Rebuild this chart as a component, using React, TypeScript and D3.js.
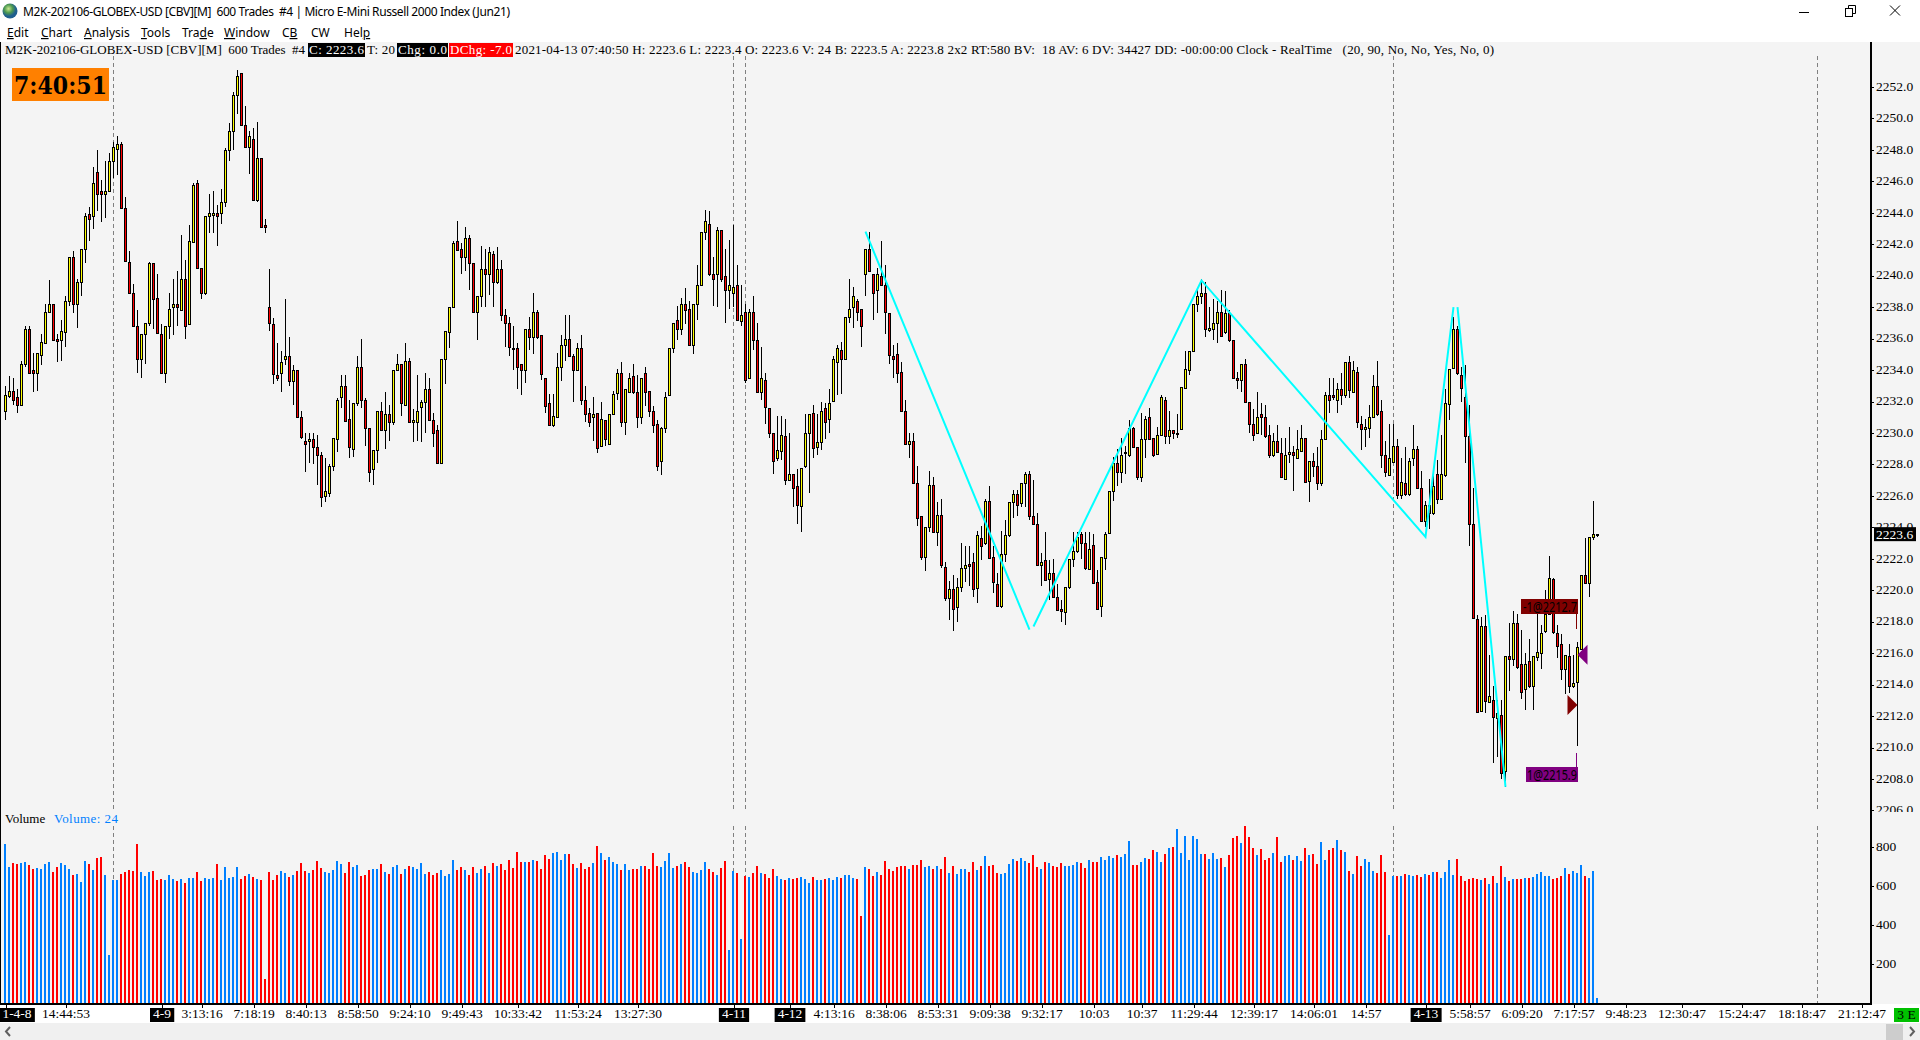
import { useEffect, useRef } from 'react';
import * as d3 from 'd3';

const WIDTH = 1920;
const HEIGHT = 1040;

const FONT_SERIF = '"Liberation Serif", serif';
const FONT_UI = '"Noto Sans", sans-serif';

// Bars, ten per row. Prices in index points.
const bodyHigh = [
  2232.4,2232.7,2232.7,2232.3,2234.4,2236.6,2236.6,2234.0,2235.1,2235.8,
  2237.7,2238.2,2238.2,2236.0,2236.5,2238.4,2241.2,2241.2,2239.6,2241.7,
  2243.8,2243.9,2245.9,2246.6,2245.4,2245.4,2247.3,2248.2,2248.4,2248.4,
  2244.3,2240.9,2238.9,2236.8,2236.3,2237.0,2240.8,2240.8,2238.6,2236.3,
  2236.8,2237.9,2238.2,2238.2,2239.8,2239.8,2242.2,2245.8,2245.9,2240.5,
  2243.8,2244.0,2244.0,2244.0,2244.7,2248.0,2249.2,2251.5,2252.7,2252.9,
  2249.6,2248.9,2248.7,2247.5,2247.5,2243.2,2238.0,2236.9,2233.7,2234.5,
  2234.9,2234.9,2234.0,2234.0,2231.0,2229.5,2229.6,2229.6,2229.1,2228.6,
  2226.3,2227.9,2229.7,2232.1,2233.0,2233.0,2230.9,2231.9,2234.2,2234.2,
  2232.1,2230.3,2228.9,2231.4,2231.4,2231.2,2231.2,2234.0,2234.4,2234.4,
  2234.6,2234.6,2230.8,2231.4,2232.0,2232.8,2232.8,2230.8,2230.2,2234.7,
  2236.5,2238.0,2242.1,2242.2,2241.7,2242.4,2242.4,2240.8,2238.7,2240.4,
  2240.4,2241.5,2241.4,2240.4,2240.4,2237.5,2237.0,2235.4,2235.4,2234.4,
  2236.6,2236.6,2237.7,2237.7,2236.2,2233.5,2231.9,2231.1,2234.2,2235.6,
  2236.0,2236.0,2234.9,2235.4,2235.4,2232.1,2231.3,2231.2,2231.3,2230.9,
  2230.8,2231.2,2232.5,2233.8,2233.8,2232.8,2233.5,2233.6,2232.6,2233.5,
  2233.8,2232.7,2231.4,2230.6,2230.3,2232.3,2235.4,2237.0,2237.2,2238.2,
  2238.2,2237.9,2238.2,2239.4,2242.8,2243.5,2243.3,2240.1,2242.9,2242.9,
  2240.0,2239.4,2239.3,2239.4,2237.5,2237.7,2237.7,2237.7,2235.9,2233.5,
  2233.4,2231.6,2230.0,2228.9,2229.9,2229.8,2227.4,2227.4,2226.6,2227.8,
  2230.0,2231.2,2231.3,2229.4,2231.4,2231.6,2231.9,2234.7,2235.4,2235.3,
  2237.4,2237.9,2238.7,2238.4,2237.9,2241.7,2241.7,2240.1,2240.1,2240.0,
  2239.4,2237.6,2234.9,2235.0,2233.9,2231.4,2229.5,2229.5,2226.8,2224.7,
  2224.0,2226.7,2226.7,2224.8,2224.8,2221.5,2220.1,2220.1,2220.2,2221.4,
  2221.6,2221.7,2221.8,2223.5,2223.3,2225.7,2225.7,2222.1,2220.4,2222.3,
  2223.5,2225.6,2226.1,2226.1,2226.8,2227.4,2227.4,2224.7,2224.2,2221.8,
  2221.9,2221.1,2221.1,2219.6,2218.8,2220.2,2222.0,2222.5,2223.4,2223.6,
  2223.0,2222.6,2222.9,2220.5,2222.1,2223.6,2226.3,2228.1,2228.1,2228.6,
  2228.8,2230.3,2230.3,2229.1,2229.6,2230.9,2231.0,2229.7,2229.9,2232.3,
  2232.1,2230.2,2230.2,2230.0,2232.9,2234.1,2235.2,2238.2,2238.7,2238.9,
  2238.9,2236.7,2237.0,2237.7,2237.7,2237.6,2237.6,2235.9,2233.5,2234.4,
  2234.4,2232.0,2230.6,2231.0,2231.2,2231.0,2229.9,2229.5,2229.5,2228.7,
  2228.6,2228.8,2228.8,2229.0,2229.7,2229.7,2228.2,2228.2,2227.9,2229.6,
  2232.4,2232.4,2232.4,2232.8,2232.8,2234.5,2234.5,2234.0,2233.9,2230.6,
  2230.4,2231.0,2233.0,2233.0,2231.4,2228.6,2228.4,2229.2,2229.2,2226.9,
  2226.8,2228.2,2229.0,2229.0,2226.5,2225.4,2225.4,2226.6,2227.4,2227.4,
  2231.9,2234.1,2236.6,2236.6,2233.7,2232.3,2229.8,2224.2,2218.2,2217.7,
  2217.7,2213.3,2213.0,2212.2,2212.1,2215.8,2215.8,2217.9,2217.9,2215.3,
  2215.3,2215.5,2215.8,2216.1,2217.3,2218.5,2220.8,2220.7,2217.3,2216.6,
  2215.9,2215.8,2214.1,2216.4,2221.0,2221.0,2223.4,2223.6,2223.6,
];

const bodyLow = [
  2231.4,2232.4,2232.1,2231.8,2231.8,2234.4,2233.8,2233.8,2233.8,2235.0,
  2235.7,2237.7,2235.9,2235.9,2235.9,2236.4,2238.4,2238.2,2238.2,2239.6,
  2241.7,2243.6,2243.8,2245.2,2245.2,2245.2,2245.4,2247.3,2248.1,2244.3,
  2240.9,2238.9,2236.8,2234.7,2234.7,2236.3,2237.0,2238.5,2236.4,2233.8,
  2233.8,2236.8,2238.0,2238.0,2237.8,2236.8,2236.9,2242.2,2240.5,2238.9,
  2238.9,2243.8,2243.9,2243.8,2244.0,2244.7,2248.0,2249.2,2251.5,2249.6,
  2248.2,2248.2,2244.8,2244.8,2243.1,2243.1,2237.0,2233.7,2233.5,2233.8,
  2234.7,2233.3,2233.3,2231.0,2229.7,2229.3,2229.5,2229.1,2228.6,2225.9,
  2226.0,2226.2,2227.9,2229.6,2232.3,2230.8,2229.1,2229.0,2231.9,2232.1,
  2230.3,2227.5,2227.7,2228.9,2230.2,2230.2,2230.7,2230.7,2234.0,2231.9,
  2231.8,2230.7,2230.7,2230.7,2231.7,2232.0,2230.8,2230.0,2228.1,2228.1,
  2234.7,2236.4,2238.0,2241.6,2241.2,2241.2,2240.8,2237.7,2237.7,2238.7,
  2240.1,2240.1,2239.6,2239.6,2237.5,2237.0,2235.5,2235.4,2234.2,2234.0,
  2234.0,2236.1,2236.1,2236.1,2233.7,2231.7,2230.5,2230.5,2231.0,2234.2,
  2235.6,2234.9,2234.0,2234.0,2232.1,2231.2,2230.7,2231.0,2229.1,2229.2,
  2229.6,2229.3,2231.2,2232.5,2230.7,2230.7,2232.6,2232.6,2231.0,2231.0,
  2232.6,2231.4,2230.5,2227.9,2228.2,2230.3,2232.4,2235.4,2236.6,2236.6,
  2237.8,2235.6,2235.6,2238.2,2239.4,2242.8,2240.1,2239.8,2240.1,2239.8,
  2239.1,2239.1,2238.9,2237.2,2237.1,2233.4,2233.5,2235.9,2232.6,2232.6,
  2231.7,2230.0,2228.2,2228.4,2228.9,2227.0,2227.0,2226.5,2225.4,2225.4,
  2227.9,2230.0,2229.1,2229.1,2229.4,2230.7,2230.9,2232.0,2234.5,2234.7,
  2234.7,2237.4,2238.0,2237.7,2236.8,2240.1,2240.3,2238.9,2239.1,2239.4,
  2237.7,2234.9,2234.7,2233.8,2231.4,2229.3,2229.3,2226.8,2224.6,2222.1,
  2222.1,2224.0,2223.7,2223.7,2221.6,2219.5,2219.5,2218.8,2218.9,2220.2,
  2221.4,2221.6,2220.1,2220.1,2222.8,2223.0,2222.1,2220.5,2219.0,2219.0,
  2222.3,2223.5,2225.6,2225.4,2225.5,2226.8,2224.7,2224.2,2221.6,2221.6,
  2220.6,2220.7,2219.6,2218.8,2218.7,2218.6,2220.2,2222.0,2222.5,2223.0,
  2221.4,2221.3,2220.5,2218.8,2219.0,2222.1,2223.6,2226.3,2227.5,2227.5,
  2228.8,2228.6,2229.1,2227.2,2227.2,2229.6,2229.6,2228.6,2228.7,2229.9,
  2229.8,2229.8,2230.0,2230.0,2230.2,2232.9,2234.0,2235.2,2238.2,2238.7,
  2236.6,2236.6,2236.6,2237.0,2236.2,2236.4,2235.9,2233.5,2233.4,2233.4,
  2232.0,2230.6,2229.9,2230.0,2231.0,2229.8,2228.6,2228.6,2228.8,2227.2,
  2227.1,2228.7,2228.6,2228.4,2228.9,2226.9,2226.9,2227.9,2226.8,2226.8,
  2229.6,2232.1,2232.3,2232.1,2232.4,2232.4,2232.7,2232.6,2230.7,2230.3,
  2230.3,2230.3,2231.0,2231.2,2228.6,2227.5,2227.3,2228.2,2226.1,2226.1,
  2226.1,2226.1,2228.4,2226.5,2224.4,2224.4,2224.9,2224.9,2225.8,2225.8,
  2227.3,2231.9,2234.1,2233.8,2232.9,2229.8,2224.2,2218.2,2212.3,2212.3,
  2212.9,2212.9,2211.9,2211.9,2208.4,2208.5,2215.6,2215.6,2215.1,2213.5,
  2213.7,2213.9,2213.9,2215.8,2216.0,2217.4,2218.5,2217.3,2216.5,2215.0,
  2215.0,2213.9,2213.9,2214.2,2216.3,2220.5,2220.5,2223.4,2223.6,
];

const wickHigh = [
  2233.0,2233.6,2233.5,2232.8,2234.6,2236.8,2236.8,2235.1,2235.1,2236.3,
  2238.2,2239.7,2238.2,2236.3,2237.2,2238.7,2241.2,2241.6,2239.8,2241.7,
  2244.0,2244.4,2246.9,2248.0,2246.1,2247.3,2247.8,2248.5,2248.9,2248.5,
  2245.0,2241.6,2239.5,2237.8,2236.3,2237.0,2240.9,2240.8,2240.1,2236.9,
  2236.8,2238.9,2239.8,2240.3,2242.6,2241.0,2243.2,2245.9,2246.1,2240.5,
  2243.8,2245.2,2245.4,2244.5,2245.5,2248.1,2249.7,2251.7,2253.1,2252.9,
  2250.8,2249.2,2249.4,2249.8,2247.5,2243.6,2240.4,2237.3,2235.7,2235.2,
  2238.5,2236.1,2234.3,2234.0,2231.4,2230.0,2230.0,2230.0,2229.9,2228.8,
  2228.4,2228.0,2229.7,2232.2,2233.7,2233.7,2232.1,2231.9,2234.9,2236.0,
  2232.2,2230.3,2228.9,2231.4,2232.0,2232.6,2231.8,2234.0,2235.0,2234.4,
  2235.7,2234.8,2231.5,2233.7,2232.1,2233.8,2233.5,2231.3,2230.5,2234.7,
  2236.5,2238.0,2242.2,2243.5,2242.1,2243.1,2242.6,2240.8,2238.7,2241.9,
  2241.7,2241.8,2241.6,2241.8,2241.0,2237.9,2237.4,2236.8,2235.7,2234.4,
  2236.6,2237.4,2238.9,2237.8,2236.2,2233.5,2232.5,2232.5,2235.1,2236.2,
  2237.5,2237.5,2235.0,2235.7,2236.2,2233.0,2231.6,2232.3,2231.3,2232.0,
  2230.8,2231.2,2232.7,2234.1,2234.5,2232.8,2233.8,2234.4,2233.7,2233.5,
  2234.2,2232.7,2231.7,2230.8,2230.4,2232.6,2235.4,2237.0,2238.1,2238.6,
  2239.2,2238.4,2238.2,2240.7,2242.8,2244.2,2244.1,2241.2,2243.1,2242.9,
  2241.7,2242.3,2243.2,2240.7,2239.4,2238.2,2237.9,2238.7,2237.0,2235.5,
  2233.8,2231.6,2230.0,2231.1,2231.1,2230.9,2230.0,2227.4,2227.7,2227.8,
  2231.2,2231.2,2231.8,2231.2,2232.0,2231.9,2232.8,2234.9,2235.6,2235.8,
  2237.4,2239.8,2239.3,2238.5,2237.9,2241.7,2242.8,2240.1,2240.5,2242.2,
  2240.7,2237.6,2235.6,2235.7,2234.5,2232.1,2230.0,2230.0,2227.9,2224.7,
  2224.0,2227.6,2227.2,2225.6,2225.8,2221.8,2220.6,2221.0,2220.8,2223.0,
  2222.8,2222.8,2222.4,2223.8,2224.1,2225.8,2226.6,2222.8,2221.1,2223.8,
  2224.5,2225.6,2226.4,2226.4,2226.8,2227.5,2227.6,2227.0,2224.9,2222.4,
  2223.7,2221.9,2222.0,2220.4,2219.4,2220.2,2222.0,2223.7,2223.7,2223.7,
  2223.7,2223.7,2223.6,2221.3,2222.1,2223.7,2226.3,2228.5,2229.0,2229.7,
  2229.2,2230.8,2230.4,2229.1,2231.3,2231.1,2231.6,2229.7,2230.4,2232.4,
  2232.3,2231.4,2230.2,2231.2,2232.9,2235.2,2235.2,2238.2,2239.2,2239.8,
  2239.6,2238.0,2238.5,2238.4,2239.1,2239.0,2237.8,2235.9,2233.9,2234.4,
  2234.7,2232.0,2231.5,2232.6,2231.9,2231.8,2230.5,2230.0,2230.5,2229.7,
  2229.7,2230.4,2229.2,2230.2,2230.5,2229.7,2228.2,2228.7,2229.1,2230.2,
  2232.6,2233.5,2233.5,2233.2,2233.8,2234.5,2234.9,2234.6,2234.2,2231.1,
  2230.9,2231.8,2233.7,2234.6,2232.1,2229.5,2230.6,2230.6,2229.6,2228.4,
  2229.1,2228.4,2230.5,2229.2,2227.6,2225.7,2227.1,2227.4,2228.3,2229.9,
  2232.8,2234.1,2237.4,2236.8,2234.2,2234.3,2231.8,2226.5,2218.4,2218.3,
  2218.4,2215.9,2213.9,2213.0,2213.0,2215.8,2217.9,2218.7,2218.5,2217.5,
  2216.0,2216.9,2215.8,2218.5,2217.8,2220.0,2222.2,2220.8,2217.8,2217.2,
  2215.9,2216.6,2215.9,2216.7,2221.0,2223.3,2223.4,2225.7,2223.6,
];

const wickLow = [
  2230.8,2232.2,2231.8,2231.3,2231.8,2234.2,2233.8,2232.6,2232.7,2234.3,
  2235.7,2237.7,2235.9,2234.5,2234.6,2235.5,2238.1,2237.6,2236.7,2238.7,
  2240.8,2242.2,2243.0,2244.1,2243.4,2243.7,2245.4,2246.2,2246.4,2244.3,
  2240.9,2238.9,2236.8,2233.8,2233.5,2234.4,2236.8,2236.6,2236.4,2233.8,
  2233.2,2236.0,2236.2,2236.8,2237.8,2236.0,2236.9,2242.2,2240.5,2238.5,
  2238.8,2242.7,2242.7,2241.9,2243.3,2244.4,2247.3,2248.0,2250.3,2249.5,
  2248.2,2246.5,2244.8,2244.7,2243.1,2242.7,2236.5,2233.1,2233.3,2232.6,
  2234.3,2233.0,2231.8,2231.0,2229.6,2227.5,2228.1,2228.0,2226.7,2225.3,
  2225.6,2225.9,2227.6,2228.8,2231.6,2230.7,2228.4,2228.5,2231.7,2231.6,
  2229.2,2226.9,2226.7,2228.1,2230.2,2229.0,2229.5,2230.5,2234.0,2231.1,
  2231.7,2230.7,2229.4,2229.5,2229.4,2230.0,2230.8,2229.1,2228.1,2228.1,
  2233.1,2235.4,2238.0,2241.6,2240.1,2240.3,2239.1,2237.7,2235.9,2238.0,
  2238.0,2238.8,2238.0,2239.5,2237.1,2235.5,2234.9,2234.0,2232.8,2232.4,
  2233.2,2235.3,2235.0,2236.0,2233.4,2231.3,2230.5,2230.4,2231.0,2233.3,
  2234.6,2234.9,2232.0,2234.0,2231.8,2230.7,2230.4,2229.5,2228.7,2229.2,
  2229.2,2229.3,2231.2,2232.1,2230.4,2229.9,2232.6,2232.5,2230.3,2230.6,
  2231.7,2231.0,2230.0,2227.6,2227.3,2230.0,2232.4,2235.1,2235.9,2236.2,
  2236.9,2235.6,2235.0,2237.2,2239.4,2242.3,2240.0,2238.1,2238.0,2239.6,
  2237.0,2237.9,2238.0,2237.1,2236.8,2233.2,2233.5,2235.3,2232.6,2232.1,
  2230.6,2229.7,2227.4,2228.2,2228.3,2226.7,2227.0,2225.3,2224.2,2223.7,
  2227.8,2226.2,2228.4,2228.6,2228.9,2229.6,2230.0,2232.0,2232.4,2232.5,
  2234.7,2237.0,2236.7,2237.1,2235.5,2238.7,2240.3,2237.2,2237.6,2239.4,
  2236.3,2234.4,2233.5,2233.2,2231.4,2229.3,2228.4,2226.8,2224.1,2221.9,
  2221.2,2223.7,2223.7,2222.8,2221.4,2219.3,2218.1,2217.4,2218.0,2219.9,
  2220.5,2220.3,2219.6,2219.2,2221.9,2222.9,2222.0,2219.8,2219.0,2218.9,
  2221.8,2223.4,2224.6,2224.7,2225.3,2225.3,2224.5,2224.2,2221.6,2220.3,
  2220.6,2219.4,2219.6,2218.7,2218.0,2217.8,2220.1,2221.5,2222.4,2222.0,
  2221.3,2221.3,2220.5,2218.8,2218.3,2221.3,2223.6,2225.7,2226.6,2226.8,
  2227.4,2228.5,2229.1,2227.0,2226.9,2228.4,2229.6,2228.5,2228.7,2229.8,
  2229.3,2229.3,2229.6,2229.7,2230.2,2232.8,2233.7,2235.2,2237.7,2238.2,
  2236.1,2236.4,2235.9,2235.7,2236.2,2236.3,2235.8,2233.5,2232.8,2232.6,
  2232.0,2230.0,2229.5,2230.0,2229.9,2229.7,2228.4,2228.5,2228.7,2227.2,
  2227.0,2228.1,2226.3,2228.4,2228.9,2226.9,2225.6,2227.2,2226.4,2226.6,
  2229.6,2231.3,2232.1,2231.3,2231.8,2232.2,2232.2,2232.6,2230.3,2228.9,
  2229.1,2229.7,2231.0,2231.1,2227.8,2227.2,2227.3,2228.2,2225.8,2225.8,
  2226.0,2226.0,2227.9,2226.5,2224.4,2224.0,2223.9,2224.8,2225.5,2225.8,
  2227.2,2230.8,2234.1,2233.7,2232.0,2228.1,2222.8,2218.2,2212.3,2212.3,
  2212.2,2212.9,2209.0,2209.4,2208.0,2207.5,2213.6,2215.2,2215.0,2213.1,
  2212.4,2213.8,2212.4,2215.5,2215.0,2217.3,2218.5,2217.2,2215.7,2214.3,
  2213.4,2213.5,2213.8,2210.1,2216.2,2220.5,2219.6,2223.2,2223.4,
];

// U = up bar (yellow candle, blue volume), D = down bar (red candle, red volume).
const barDirection = [
  'UUDDUUDDUU','UUDDUUUDUU','UDUDDUUUUD','DDDDUUUDDD','UUUDUDUUDD',
  'UUUDUUUUUD','DUDUDDDDDU','UDUDDDUDDD','UUUUUDDUUD','DDUUDUDUUD',
  'UDUUUUDDDU','UUUDDUDDUU','DUDUDDDDDD','UDUDDDDUUU','UDDUDDDUDU',
  'DUUUDUUDDU','DDDDUUUUDU','DDUUUUDDUD','DUUDUDUDDU','DDDUUDUDDU',
  'UUDUUDUUUD','UUUDDUDDUD','DDDDDDUDDD','UUDUDDUDUU','UDDUDUDDDU',
  'UUUDUUDDDU','DUDDDUUUUD','DUDDUUUUDU','UUDDUUDDUU','DUDUUUUUUU',
  'DUUUDUDDDU','DDDUDDDUDD','UUDUUDUDDU','UDDUDUDUDD','UUUDDDUUDU',
  'DUUDDUDUDU','UUUDDDDDDU','DUDUDUDUDD','UDUUUUUDDD','UDUUUDUUU',
].join('');

const volumes = [
  817,699,720,715,720,725,709,689,694,689,
  715,725,674,699,720,709,689,658,663,622,
  730,715,684,745,750,658,248,632,632,663,
  674,684,679,817,674,653,674,679,632,638,
  632,658,638,627,638,617,643,643,674,627,
  643,638,643,714,632,699,643,648,699,638,
  653,663,648,638,632,125,674,632,658,679,
  668,648,658,679,720,679,668,684,730,694,
  674,668,684,730,714,668,725,699,709,653,
  658,684,689,689,714,674,663,699,709,663,
  689,704,699,689,720,663,674,658,668,684,
  653,663,735,684,699,684,658,699,668,689,
  704,668,720,704,714,684,735,694,776,725,
  725,725,735,730,689,760,740,771,776,735,
  766,766,714,694,720,689,699,720,807,771,
  735,750,725,714,684,714,684,689,689,704,
  704,689,771,704,699,730,771,694,704,714,
  725,699,674,668,684,725,689,674,658,694,
  730,273,679,668,330,653,648,668,704,668,
  663,643,689,653,638,632,643,638,643,648,
  638,617,648,632,632,638,643,632,648,643,
  658,658,643,638,448,699,689,653,674,658,
  730,689,679,699,704,704,689,709,709,735,
  699,704,689,704,689,750,668,704,663,689,
  689,674,725,684,704,755,704,709,668,663,
  668,714,740,730,745,730,720,760,699,689,
  725,720,704,699,720,704,704,709,725,720,
  694,735,725,725,750,735,755,745,760,750,
  766,832,709,709,725,745,740,786,776,725,
  766,796,801,894,771,858,735,858,843,766,
  766,740,771,740,745,699,760,848,858,822,
  909,853,796,760,791,735,745,771,853,725,
  755,760,735,755,730,796,760,766,714,827,
  735,786,796,837,786,776,679,663,755,704,
  740,725,679,668,760,674,350,653,653,653,
  663,658,653,658,648,663,658,674,674,643,
  674,735,658,740,653,627,638,643,638,632,
  643,612,653,617,704,648,627,638,638,638,
  643,643,648,663,674,653,653,638,643,653,
  694,663,679,668,709,653,643,679,24,
];

const priceTicks = d3.range(2206, 2253, 2);
const volumeTicks = [200, 400, 600, 800];

// Time axis: bar index of each tick and its label.
const timeTickBars = [
  0, 15, 39, 49, 62, 75, 88, 101, 114, 128, 143, 158, 182, 196, 207, 220, 233,
  246, 259, 272, 284, 297, 312, 327, 340, 355, 366, 379, 392, 405, 419, 434, 449, 464,
];
const timeTickLabels = [
  '1-4-8', '14:44:53', '4-9', '3:13:16', '7:18:19', '8:40:13', '8:58:50', '9:24:10',
  '9:49:43', '10:33:42', '11:53:24', '13:27:30', '4-11', '4-12', '4:13:16', '8:38:06',
  '8:53:31', '9:09:38', '9:32:17', '10:03', '10:37', '11:29:44', '12:39:17', '14:06:01',
  '14:57', '4-13', '5:58:57', '6:09:20', '7:17:57', '9:48:23', '12:30:47', '15:24:47',
  '18:18:47', '21:12:47',
];
const dateLabels = ['1-4-8', '4-9', '4-11', '4-12', '4-13'];

// Session separators (dashed verticals).
const sessionBars = [27, 182, 185, 347, 453];

// Cyan zigzag; null breaks the line.
const zigzagBars = [215, 256, null, 257, 299, 355, 362, null, 363, 375];
const zigzagPrices = [2242.8, 2217.5, null, 2217.7, 2239.7, 2223.4, 2238.0, null, 2238.0, 2207.5];

const lastPrice = 2223.6;
const tradeBar = 393;
const sellPrice = 2212.7;
const buyPrice = 2215.9;

const menuItems = ['Edit', 'Chart', 'Analysis', 'Tools', 'Trade', 'Window', 'CB', 'CW', 'Help'];
const menuX = [7, 41, 84, 141, 182, 224, 282, 311, 344];
const menuUnderline = [0, 0, 0, 0, 3, 0, 1, -1, 3];

const UP_COLOR = '#ffff00';
const DOWN_COLOR = '#ff0000';
const VOL_UP = '#0080ff';
const BG = '#f4f4f4';
const AXIS_LEFT = 1870;

export default function App() {
  const svgRef = useRef<SVGSVGElement>(null);

  useEffect(() => {
    document.body.style.margin = '0';
    if (!svgRef.current) return;
    const svg = d3.select(svgRef.current);
    svg.selectAll('*').remove();

    const x = d3.scaleLinear().domain([0, 464]).range([5.5, 1861.5]);
    const y = d3.scaleLinear().domain([2208, 2252]).range([779, 87]);
    const yVol = d3.scaleLinear().domain([0, 800]).range([1003, 847]);

    // ── Window chrome ────────────────────────────────────────────────────
    svg.append('rect').attr('width', WIDTH).attr('height', HEIGHT).attr('fill', '#ffffff');
    svg.append('rect').attr('y', 42).attr('width', WIDTH).attr('height', 962).attr('fill', BG);
    svg.append('rect').attr('y', 1023).attr('width', WIDTH).attr('height', 17).attr('fill', '#f0f0f0');

    const defs = svg.append('defs');
    const globe = defs.append('radialGradient').attr('id', 'globe').attr('cx', '40%').attr('cy', '35%');
    globe.append('stop').attr('offset', '0%').attr('stop-color', '#c8e890');
    globe.append('stop').attr('offset', '55%').attr('stop-color', '#4e9a50');
    globe.append('stop').attr('offset', '100%').attr('stop-color', '#1f5f8f');
    defs.append('clipPath').attr('id', 'price-clip')
      .append('rect').attr('x', 0).attr('y', 42).attr('width', WIDTH).attr('height', 770);

    svg.append('circle').attr('cx', 10).attr('cy', 11).attr('r', 7.5).attr('fill', 'url(#globe)');
    svg.append('text')
      .attr('x', 23).attr('y', 16)
      .attr('font-family', FONT_UI).attr('font-size', 12).attr('fill', '#000')
      .attr('xml:space', 'preserve')
      .attr('textLength', 487).attr('lengthAdjust', 'spacing')
      .text('M2K-202106-GLOBEX-USD [CBV][M]  600 Trades  #4 | Micro E-Mini Russell 2000 Index (Jun21)');

    menuItems.forEach((item, i) => {
      const t = svg.append('text')
        .attr('x', menuX[i]).attr('y', 37)
        .attr('font-family', FONT_UI).attr('font-size', 12).attr('fill', '#000');
      Array.from(item).forEach((ch, c) => {
        t.append('tspan')
          .attr('text-decoration', c === menuUnderline[i] ? 'underline' : 'none')
          .text(ch);
      });
    });

    // window buttons
    svg.append('line').attr('x1', 1799).attr('x2', 1809).attr('y1', 12.5).attr('y2', 12.5)
      .attr('stroke', '#000');
    svg.append('rect').attr('x', 1845.5).attr('y', 8.5).attr('width', 7).attr('height', 8)
      .attr('fill', '#fff').attr('stroke', '#000');
    svg.append('path').attr('d', 'M1848.5 8.5V5.5H1855.5V13.5H1852.5').attr('fill', 'none').attr('stroke', '#000');
    svg.append('path').attr('d', 'M1890 5.5L1900 15.5M1900 5.5L1890 15.5').attr('fill', 'none').attr('stroke', '#000');

    // scrollbar
    svg.append('path').attr('d', 'M10 1027L6 1031.5L10 1036').attr('fill', 'none')
      .attr('stroke', '#606060').attr('stroke-width', 2);
    svg.append('rect').attr('x', 1886).attr('y', 1024).attr('width', 17).attr('height', 16).attr('fill', '#cdcdcd');
    svg.append('path').attr('d', 'M1910 1027L1914 1031.5L1910 1036').attr('fill', 'none')
      .attr('stroke', '#606060').attr('stroke-width', 2);

    // ── Session separators ───────────────────────────────────────────────
    const seps = svg.append('g')
      .attr('stroke', '#808080').attr('stroke-dasharray', '4,3').attr('shape-rendering', 'crispEdges');
    sessionBars.forEach((b) => {
      seps.append('line').attr('x1', x(b)).attr('x2', x(b)).attr('y1', 56).attr('y2', 810);
      seps.append('line').attr('x1', x(b)).attr('x2', x(b)).attr('y1', 826).attr('y2', 1003);
    });

    // ── Candles ──────────────────────────────────────────────────────────
    const bars = d3.range(bodyHigh.length);
    const candles = svg.append('g').attr('shape-rendering', 'crispEdges');
    candles.append('g')
      .selectAll('line')
      .data(bars)
      .join('line')
      .attr('x1', (i) => x(i)).attr('x2', (i) => x(i))
      .attr('y1', (i) => y(wickHigh[i])).attr('y2', (i) => y(wickLow[i]))
      .attr('stroke', '#000');
    candles.append('g')
      .selectAll('rect')
      .data(bars)
      .join('rect')
      .attr('x', (i) => x(i) - 1)
      .attr('width', 2)
      .attr('y', (i) => Math.round(y(bodyHigh[i])) + 0.5)
      .attr('height', (i) => Math.max(1, Math.round(y(bodyLow[i]) - y(bodyHigh[i]))))
      .attr('fill', (i) => (barDirection[i] === 'U' ? UP_COLOR : DOWN_COLOR))
      .attr('stroke', '#000');

    // ── Volume ───────────────────────────────────────────────────────────
    svg.append('g')
      .attr('shape-rendering', 'crispEdges')
      .selectAll('rect')
      .data(bars)
      .join('rect')
      .attr('x', (i) => x(i) - 1.5)
      .attr('width', 2)
      .attr('y', (i) => yVol(volumes[i]))
      .attr('height', (i) => yVol(0) - yVol(volumes[i]))
      .attr('fill', (i) => (barDirection[i] === 'U' ? VOL_UP : DOWN_COLOR));

    // ── Zigzag ───────────────────────────────────────────────────────────
    const zigzag = d3.line<number>()
      .defined((k) => zigzagBars[k] != null)
      .x((k) => x(zigzagBars[k] as number))
      .y((k) => y(zigzagPrices[k] as number));
    svg.append('path')
      .attr('d', zigzag(d3.range(zigzagBars.length)))
      .attr('fill', 'none')
      .attr('stroke', '#00ffff')
      .attr('stroke-width', 2);

    // ── Trade markers ────────────────────────────────────────────────────
    const tx = x(tradeBar);
    svg.append('path')
      .attr('d', `M${tx} ${y(sellPrice)}l-10 -10v20z`)
      .attr('fill', '#800000');
    svg.append('path')
      .attr('d', `M${tx} ${y(buyPrice)}l10 -10v20z`)
      .attr('fill', '#800080');
    svg.append('line').attr('x1', tx - 1).attr('x2', tx - 1).attr('y1', 614).attr('y2', 629)
      .attr('stroke', '#800000');
    svg.append('line').attr('x1', tx - 1).attr('x2', tx - 1).attr('y1', 753).attr('y2', 767)
      .attr('stroke', '#800080');
    svg.append('rect').attr('x', 1521).attr('y', 599).attr('width', 57).attr('height', 15).attr('fill', '#800000');
    svg.append('text').attr('x', 1523).attr('y', 611.5)
      .attr('font-family', FONT_UI).attr('font-size', 14).attr('fill', '#000')
      .attr('textLength', 54).attr('lengthAdjust', 'spacingAndGlyphs').text(`-1@${sellPrice}`);
    svg.append('rect').attr('x', 1526).attr('y', 767).attr('width', 52).attr('height', 15).attr('fill', '#800080');
    svg.append('text').attr('x', 1527).attr('y', 779.5)
      .attr('font-family', FONT_UI).attr('font-size', 14).attr('fill', '#000')
      .attr('textLength', 50).attr('lengthAdjust', 'spacingAndGlyphs').text(`1@${buyPrice}`);

    // ── Frame and axes ───────────────────────────────────────────────────
    const axisStyle = (sel: d3.Selection<SVGGElement, unknown, null, undefined>) => {
      sel.select('.domain').remove();
      sel.selectAll('.tick line').attr('stroke', '#000').attr('shape-rendering', 'crispEdges');
      sel.selectAll('.tick text')
        .attr('fill', '#000')
        .attr('font-size', '13.5px')
        .attr('font-family', FONT_SERIF);
    };

    svg.append('g')
      .attr('clip-path', 'url(#price-clip)')
      .append('g')
      .attr('transform', `translate(${AXIS_LEFT + 1},0)`)
      .call(d3.axisRight(y).tickValues(priceTicks).tickFormat(d3.format('.1f') as never).tickSize(3).tickPadding(2))
      .call(axisStyle)
      .call((sel) => sel.selectAll('.tick text').attr('dy', '0.24em'));

    svg.append('g')
      .attr('transform', `translate(${AXIS_LEFT + 1},0)`)
      .call(d3.axisRight(yVol).tickValues(volumeTicks).tickFormat(d3.format('d') as never).tickSize(3).tickPadding(2))
      .call(axisStyle)
      .call((sel) => sel.selectAll('.tick text').attr('dy', '0.24em'));

    const timeAxis = svg.append('g')
      .attr('transform', 'translate(0,1005)')
      .call(
        d3.axisBottom(x)
          .tickValues(timeTickBars)
          .tickFormat((_, i) => timeTickLabels[i])
          .tickSize(3)
          .tickPadding(0),
      )
      .call(axisStyle);

    // Session dates sit on black chips.
    timeAxis.selectAll<SVGGElement, number>('.tick').each(function () {
      const tick = d3.select(this);
      const label = tick.select<SVGTextElement>('text');
      const name = label.text();
      if (!dateLabels.includes(name)) return;
      if (name === '1-4-8') label.attr('x', 11);
      const box = (label.node() as SVGTextElement).getBBox();
      tick.insert('rect', 'text')
        .attr('x', box.x - 3).attr('y', 3)
        .attr('width', box.width + 6).attr('height', 14)
        .attr('fill', '#000');
      label.attr('fill', '#fff');
    });

    svg.append('rect').attr('x', 0).attr('y', 42).attr('width', 1).attr('height', 963).attr('fill', '#000');
    svg.append('rect').attr('x', 0).attr('y', 1003).attr('width', AXIS_LEFT + 2).attr('height', 2).attr('fill', '#000');
    svg.append('rect').attr('x', AXIS_LEFT).attr('y', 42).attr('width', 2).attr('height', 963).attr('fill', '#000');

    // last price chip
    svg.append('rect').attr('x', 1874).attr('y', y(lastPrice) - 6.5).attr('width', 42).attr('height', 14).attr('fill', '#000');
    svg.append('text')
      .attr('x', 1876).attr('y', y(lastPrice) + 0.5)
      .attr('dominant-baseline', 'central')
      .attr('font-family', FONT_SERIF).attr('font-size', 13.5).attr('fill', '#fff')
      .text(lastPrice.toFixed(1));

    svg.append('rect').attr('x', 1894).attr('y', 1008).attr('width', 25).attr('height', 14).attr('fill', '#00c000');
    svg.append('text').attr('x', 1906.5).attr('y', 1019)
      .attr('text-anchor', 'middle')
      .attr('font-family', FONT_SERIF).attr('font-size', 13.5).attr('fill', '#000')
      .text('3 E');

    // ── Header strip ─────────────────────────────────────────────────────
    const headerText = (tx0: number, len: number, text: string, fill = '#000') =>
      svg.append('text')
        .attr('x', tx0).attr('y', 49.5)
        .attr('dominant-baseline', 'central')
        .attr('xml:space', 'preserve')
        .attr('font-family', FONT_SERIF).attr('font-size', 13).attr('fill', fill)
        .attr('textLength', len).attr('lengthAdjust', 'spacing')
        .text(text);
    svg.append('rect').attr('x', 308).attr('y', 43).attr('width', 57).attr('height', 14).attr('fill', '#000');
    svg.append('rect').attr('x', 397).attr('y', 43).attr('width', 51).attr('height', 14).attr('fill', '#000');
    svg.append('rect').attr('x', 449).attr('y', 43).attr('width', 64).attr('height', 14).attr('fill', '#ff0000');
    headerText(5, 300, 'M2K-202106-GLOBEX-USD [CBV][M]  600 Trades  #4');
    headerText(309, 55, 'C: 2223.6', '#fff');
    headerText(367, 28, 'T: 20');
    headerText(398, 49, 'Chg: 0.0', '#fff');
    headerText(450, 62, 'DChg: -7.0', '#fff');
    headerText(
      515, 979,
      '2021-04-13 07:40:50 H: 2223.6 L: 2223.4 O: 2223.6 V: 24 B: 2223.5 A: 2223.8 2x2 RT:580 BV:  18 AV: 6 DV: 34427 DD: -00:00:00 Clock - RealTime   (20, 90, No, No, Yes, No, 0)',
    );

    // clock
    svg.append('rect').attr('x', 12).attr('y', 68).attr('width', 97).attr('height', 33).attr('fill', '#ff8000');
    svg.append('text')
      .attr('x', 14).attr('y', 85)
      .attr('dominant-baseline', 'central')
      .attr('font-family', '"DejaVu Serif", serif').attr('font-weight', 'bold').attr('font-size', 24).attr('fill', '#000')
      .attr('textLength', 93).attr('lengthAdjust', 'spacingAndGlyphs')
      .text('7:40:51');

    // volume pane title
    svg.append('text').attr('x', 5).attr('y', 818).attr('dominant-baseline', 'central')
      .attr('font-family', FONT_SERIF).attr('font-size', 13).attr('fill', '#000').text('Volume');
    svg.append('text').attr('x', 54).attr('y', 818).attr('dominant-baseline', 'central')
      .attr('font-family', FONT_SERIF).attr('font-size', 13).attr('fill', VOL_UP)
      .attr('textLength', 64).text(`Volume: ${volumes[volumes.length - 1]}`);
  }, []);

  return (
    <svg
      ref={svgRef}
      width={WIDTH}
      height={HEIGHT}
      style={{ position: 'fixed', left: 0, top: 0, display: 'block' }}
    />
  );
}
